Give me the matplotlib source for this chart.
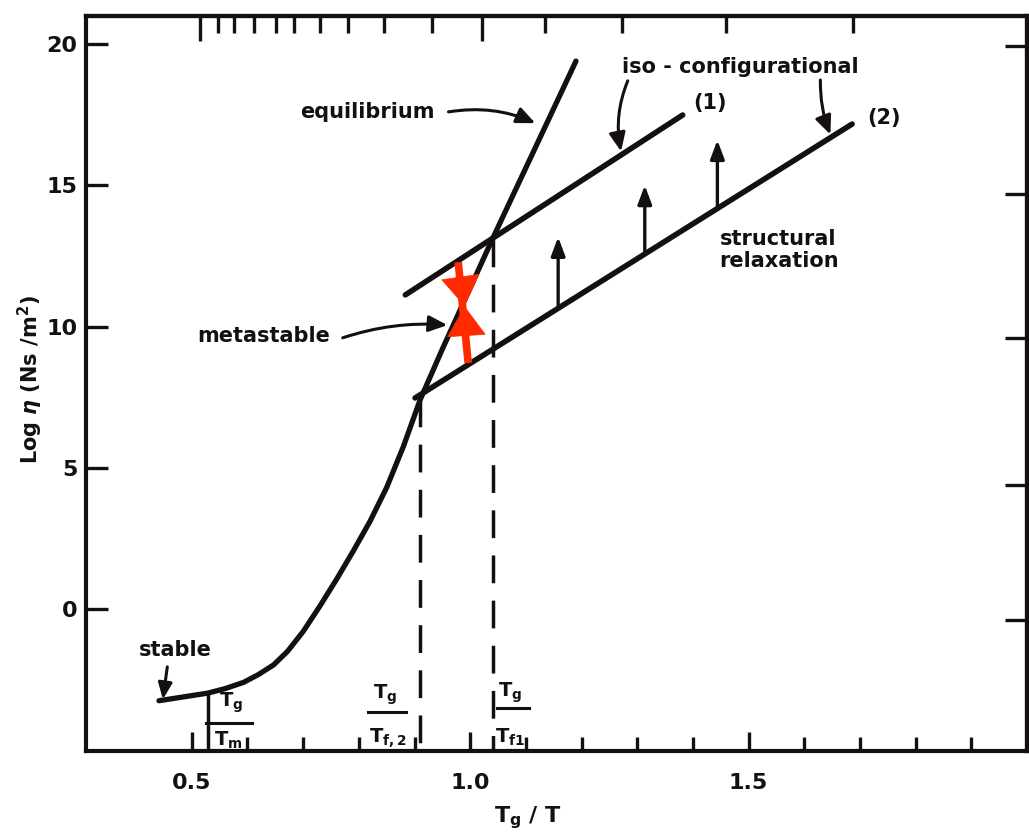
import numpy as np
import matplotlib.pyplot as plt

plt.rcParams['font.family'] = ['DejaVu Sans']
plt.rcParams['font.weight'] = 'bold'
plt.rcParams['mathtext.fontset'] = 'dejavusans'

ink = '#141010'
red = '#ff2a00'

# equilibrium viscosity curve
eq_x = [0.441, 0.490, 0.529, 0.560, 0.593, 0.620, 0.647, 0.672, 0.700, 0.730, 0.760,
        0.790, 0.820, 0.850, 0.880, 0.910, 0.950, 1.040, 1.190]
eq_y = [-3.25, -3.10, -2.98, -2.82, -2.60, -2.32, -1.98, -1.50, -0.80, 0.10, 1.05,
        2.05, 3.10, 4.30, 5.75, 7.40, 9.20, 13.10, 19.40]

# iso-configurational lines (1) and (2)
iso1_x = [0.8835, 1.3817]
iso1_y = [11.12, 17.49]
iso2_x = [0.901, 1.686]
iso2_y = [7.47, 17.17]

# Tg/Tf positions (dashed drops) and Tg/Tm
tf_x = [0.910, 1.041]
tf_y = [7.45, 13.10]
tm_x = 0.529
tm_y = -3.0

# structural relaxation arrows: x, start, end
rel_x = [1.158, 1.3136, 1.444]
rel_y0 = [10.65, 12.57, 14.20]
rel_y1 = [13.17, 15.00, 16.60]

# red arrows (ends and meeting point)
red_top = (0.9785, 12.28)
red_bot = (0.9964, 8.71)
red_mid = (0.990, 10.72)

# top axis ticks (1/T scale, labels cut off in the scan)
top_major = [0.514, 1.022]
top_minor = [0.547, 0.575, 0.611, 0.652, 0.683, 0.731, 0.781, 0.846, 0.932,
             1.134, 1.272, 1.459, 1.688]
# right axis ticks (scan is slightly skewed)
right_ticks = [19.95, 14.7, 9.6, 4.4, -0.4]

fig = plt.figure(figsize=(10.29, 8.36), dpi=100)
ax = fig.add_axes([0.0836, 0.1017, 0.9144, 0.8793])
ax.set_xlim(0.31, 2.0)
ax.set_ylim(-5.03, 21.0)

for s in ax.spines.values():
    s.set_linewidth(3.0)
    s.set_color(ink)

ax.set_xticks([0.5, 1.0, 1.5])
ax.set_xticklabels(['0.5', '1.0', '1.5'])
ax.set_xticks([0.6, 0.7, 0.8, 0.9, 1.1, 1.2, 1.3, 1.4, 1.6, 1.7, 1.8, 1.9], minor=True)
ax.set_yticks([0, 5, 10, 15, 20])
ax.set_yticklabels(['0', '5', '10', '15', '20'])
ax.tick_params(axis='x', which='major', direction='in', length=14, width=2.4,
               labelsize=16, pad=16, colors=ink)
ax.tick_params(axis='x', which='minor', direction='in', length=10, width=2.4, colors=ink)
ax.tick_params(axis='y', which='major', direction='in', length=16, width=2.4,
               labelsize=16, pad=6, colors=ink)

top = ax.secondary_xaxis('top')
top.set_xticks(top_major)
top.set_xticks(top_minor, minor=True)
top.set_xticklabels([])
top.tick_params(which='major', direction='in', length=18, width=2.4, colors=ink)
top.tick_params(which='minor', direction='in', length=12, width=2.4, colors=ink)
top.spines['top'].set_linewidth(3.0)

right = ax.secondary_yaxis('right')
right.set_yticks(right_ticks)
right.set_yticklabels([])
right.tick_params(direction='in', length=16, width=2.4, colors=ink)
right.spines['right'].set_linewidth(3.0)

ax.set_xlabel(r'$\mathbf{T_g}$ / T', fontsize=16, fontweight='bold', color=ink)
ax.xaxis.set_label_coords(0.47, -0.072)
ax.set_ylabel(r'Log $\eta$ (Ns /m$^\mathbf{2}$)', fontsize=15, fontweight='bold', color=ink)
ax.yaxis.set_label_coords(-0.044, 0.505)

lkw = dict(color=ink, solid_capstyle='round', solid_joinstyle='round')
ax.plot(eq_x, eq_y, lw=3.8, **lkw)
ax.plot(iso1_x, iso1_y, lw=4.0, **lkw)
ax.plot(iso2_x, iso2_y, lw=4.0, **lkw)
for xv, yv in zip(tf_x, tf_y):
    ax.plot([xv, xv], [yv, -5.03], color=ink, lw=2.5, ls=(0, (8, 5)))
ax.plot([tm_x, tm_x], [tm_y, -5.03], color=ink, lw=2.5)

for xv, y0, y1 in zip(rel_x, rel_y0, rel_y1):
    ax.annotate('', xy=(xv, y1), xytext=(xv, y0),
                arrowprops=dict(arrowstyle='-|>,head_length=0.8,head_width=0.3',
                                mutation_scale=14, lw=2.4, color=ink,
                                shrinkA=0, shrinkB=0))

# red double arrow: one shaft, two heads meeting in the middle
ax.plot([red_top[0], red_bot[0]], [red_top[1], red_bot[1]], color=red, lw=5.5,
        solid_capstyle='butt')
for p in (red_top, red_bot):
    ax.annotate('', xy=red_mid, xytext=p,
                arrowprops=dict(arrowstyle='-|>,head_length=1.15,head_width=0.75',
                                mutation_scale=18, lw=0.5, color=red,
                                shrinkA=0, shrinkB=0))

tkw = dict(fontsize=15, fontweight='bold', color=ink)
akw = dict(arrowstyle='-|>,head_length=0.8,head_width=0.35', mutation_scale=14,
           lw=2.2, color=ink, shrinkA=0, shrinkB=0)
ax.text(0.815, 17.6, 'equilibrium', ha='center', va='center', **tkw)
ax.annotate('', xy=(1.117, 17.2), xytext=(0.961, 17.6),
            arrowprops=dict(connectionstyle='arc3,rad=-0.15', **akw))
ax.text(1.486, 19.19, 'iso - configurational', ha='center', va='center', **tkw)
ax.annotate('', xy=(1.271, 16.2), xytext=(1.283, 18.7),
            arrowprops=dict(connectionstyle='arc3,rad=0.15', **akw))
ax.annotate('', xy=(1.647, 16.8), xytext=(1.629, 18.73),
            arrowprops=dict(connectionstyle='arc3,rad=0.1', **akw))
ax.text(1.43, 17.9, '(1)', ha='center', va='center', **tkw)
ax.text(1.744, 17.4, '(2)', ha='center', va='center', **tkw)
ax.text(1.448, 12.7, 'structural\nrelaxation', ha='left', va='center',
        linespacing=1.1, **tkw)
ax.text(0.629, 9.66, 'metastable', ha='center', va='center', **tkw)
ax.annotate('', xy=(0.959, 10.05), xytext=(0.771, 9.6),
            arrowprops=dict(connectionstyle='arc3,rad=-0.1', **akw))
ax.text(0.471, -1.45, 'stable', ha='center', va='center', **tkw)
ax.annotate('', xy=(0.448, -3.2), xytext=(0.456, -2.05),
            arrowprops=dict(akw, arrowstyle='-|>,head_length=0.7,head_width=0.3'))

# Tg/T fraction labels at the bottom
fkw = dict(fontsize=14, ha='center', va='center', color=ink)
for xn, yn, xd, yd, den, bar in [
        (0.570, -3.33, 0.565, -4.64, r'$\mathbf{T_m}$', (0.525, 0.609, -4.04)),
        (0.848, -3.04, 0.853, -4.57, r'$\mathbf{T_{f,2}}$', (0.817, 0.884, -3.65)),
        (1.072, -2.97, 1.072, -4.53, r'$\mathbf{T_{f1}}$', (1.048, 1.106, -3.50))]:
    ax.text(xn, yn, r'$\mathbf{T_g}$', **fkw)
    ax.text(xd, yd, den, **fkw)
    ax.plot([bar[0], bar[1]], [bar[2], bar[2]], color=ink, lw=2.2)

fig.savefig('out.png', dpi=100)
